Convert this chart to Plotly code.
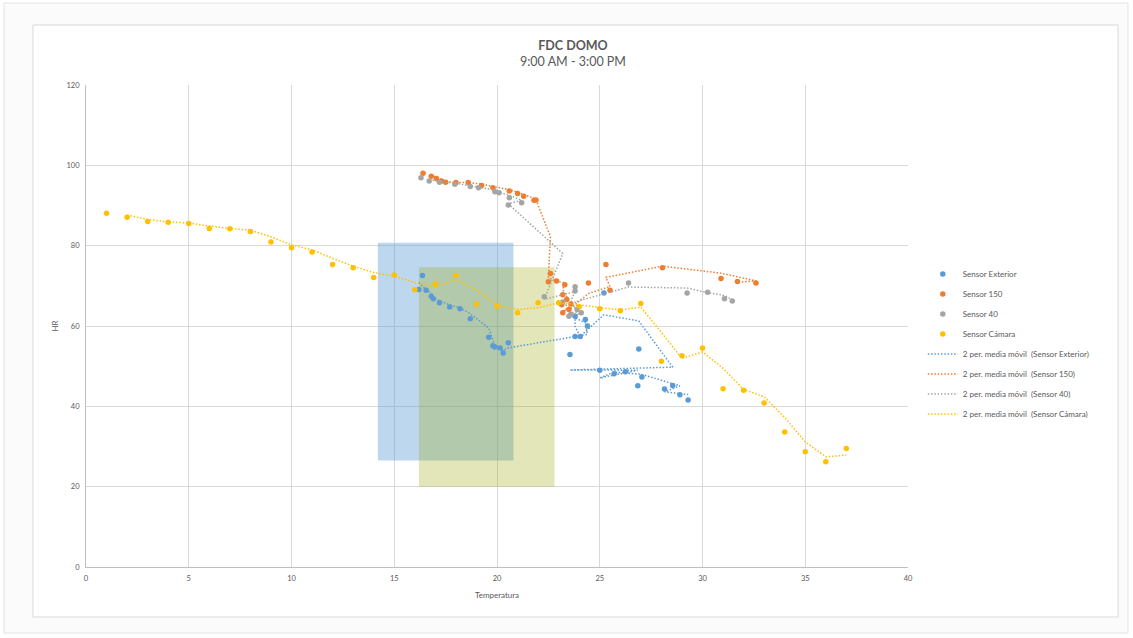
import plotly.graph_objects as go

# --- Sensor readings (temperature °C vs relative humidity %), in time order ---
temp_exterior = [16.37, 16.2, 16.55, 16.8, 16.9, 17.2, 17.7, 18.2, 18.7, 19.6, 19.8, 19.9,
                 20.15, 20.3, 20.55, 24.4, 24.3, 23.8, 23.8, 24.05, 25.2, 26.9, 28.55,
                 23.55, 26.85, 25.0, 25.7, 26.25, 27.05, 28.9, 28.15, 29.3]
hr_exterior = [72.6, 69.1, 68.9, 67.4, 66.8, 65.8, 64.7, 64.3, 61.8, 57.2, 55.1, 54.8,
               54.5, 53.3, 55.8, 60.0, 61.6, 62.4, 57.4, 57.4, 68.2, 54.3, 45.2,
               52.9, 45.1, 49.0, 48.1, 48.6, 47.3, 42.9, 44.3, 41.6]

temp_150 = [16.4, 16.8, 17.05, 17.3, 17.5, 18.0, 18.6, 19.25, 19.8, 20.6, 21.0, 21.3,
            21.8, 21.9, 22.6, 22.5, 22.9, 23.3, 23.2, 23.4, 23.15, 23.5, 23.2, 23.6,
            24.45, 25.5, 25.3, 28.05, 30.9, 32.6, 31.7]
hr_150 = [98.0, 97.3, 96.7, 96.1, 95.8, 95.7, 95.7, 95.0, 94.4, 93.6, 93.0, 92.3,
          91.3, 91.4, 73.1, 71.0, 71.2, 70.3, 67.8, 66.6, 65.3, 64.1, 63.3, 65.5,
          70.7, 68.9, 75.3, 74.5, 71.8, 70.7, 71.1]

temp_40 = [16.3, 16.7, 17.2, 17.95, 18.7, 19.1, 19.9, 20.1, 20.6, 21.2, 20.55, 23.2,
           22.3, 23.8, 23.6, 23.9, 23.5, 24.1, 23.8, 26.4, 29.25, 30.25, 31.07, 31.45]
hr_40 = [96.9, 96.1, 95.8, 95.3, 94.7, 94.4, 93.4, 93.2, 91.9, 90.7, 90.1, 66.0,
         67.3, 69.8, 62.9, 64.1, 62.4, 63.3, 68.7, 70.7, 68.2, 68.4, 66.8, 66.2]

temp_camara = [1, 2, 3, 4, 5, 6, 7, 8, 9, 10, 11, 12, 13, 14, 15, 16, 17, 18, 19,
               20, 21, 22, 23, 24, 25, 26, 27, 28, 29, 30, 31, 32, 33, 34, 35, 36, 37]
hr_camara = [88.1, 87.1, 86.0, 85.8, 85.5, 84.3, 84.2, 83.5, 80.9, 79.5, 78.4, 75.3,
             74.5, 72.1, 72.7, 69.0, 70.5, 72.6, 65.5, 64.9, 63.3, 65.8, 65.8, 64.8,
             64.3, 63.8, 65.6, 51.2, 52.6, 54.5, 44.4, 44.0, 40.8, 33.6, 28.7, 26.2, 29.5]

# Comfort zones: [T min, T max], [HR min, HR max]
zone_blue_t = [14.2, 20.8]
zone_blue_hr = [26.5, 80.7]
zone_yellow_t = [16.2, 22.8]
zone_yellow_hr = [20.0, 74.6]

series = [
    ("Sensor Exterior", temp_exterior, hr_exterior, "#5B9BD5"),
    ("Sensor 150", temp_150, hr_150, "#ED7D31"),
    ("Sensor 40", temp_40, hr_40, "#A5A5A5"),
    ("Sensor Cámara", temp_camara, hr_camara, "#FFC000"),
]


def moving_average(xs, ys, period=2):
    """Excel-style trailing moving average: point i sits at x_i with mean of last `period` y."""
    mx, my = [], []
    for i in range(period - 1, len(ys)):
        mx.append(xs[i])
        my.append(sum(ys[i - period + 1:i + 1]) / period)
    return mx, my


FONT = "Lato, 'Open Sans', sans-serif"
TXT = "#595959"

fig = go.Figure()

for name, xs, ys, color in series:
    fig.add_trace(go.Scatter(
        x=xs, y=ys, mode="markers", name=name, legendgroup=name,
        marker=dict(color=color, size=5.5, line=dict(width=0)),
    ))

for name, xs, ys, color in series:
    mx, my = moving_average(xs, ys)
    label = "2 per. media móvil  (" + name + ")"
    fig.add_trace(go.Scatter(
        x=mx, y=my, mode="lines", name=label, legendgroup=label,
        line=dict(color=color, width=1.5, dash="1.5px,1.8px"),
    ))

# outer page frame and chart frame
fig.add_shape(type="rect", xref="paper", yref="paper",
              x0=(4 - 86) / 822, x1=(1128 - 86) / 822,
              y0=(567 - 633) / 482, y1=(567 - 3) / 482,
              line=dict(color="#E3E3E3", width=1), fillcolor="#FBFBFB", layer="below")
fig.add_shape(type="rect", xref="paper", yref="paper",
              x0=-0.0645, x1=1.2555, y0=-0.1037, y1=1.1245,
              line=dict(color="#D9D9D9", width=1), fillcolor="white", layer="below")

# shaded zones
fig.add_shape(type="rect", xref="x", yref="y",
              x0=zone_blue_t[0], x1=zone_blue_t[1], y0=zone_blue_hr[0], y1=zone_blue_hr[1],
              line=dict(width=0), fillcolor="rgba(91,155,213,0.40)", layer="between")
fig.add_shape(type="rect", xref="x", yref="y",
              x0=zone_yellow_t[0], x1=zone_yellow_t[1], y0=zone_yellow_hr[0], y1=zone_yellow_hr[1],
              line=dict(width=0), fillcolor="rgba(150,165,0,0.28)", layer="between")

fig.add_annotation(xref="paper", yref="paper", x=0.5925, y=(567 - 53) / 482,
                   text="<b>FDC DOMO</b><br>9:00 AM - 3:00 PM", showarrow=False,
                   font=dict(family=FONT, size=12.5, color=TXT), align="center",
                   xanchor="center", yanchor="middle")

fig.update_layout(
    width=1133, height=638,
    margin=dict(l=86, r=225, t=85, b=71),
    paper_bgcolor="white", plot_bgcolor="white",
    font=dict(family=FONT, size=8, color=TXT),
    showlegend=True,
    legend=dict(x=1.018, y=0.638, xanchor="left", yanchor="top",
                font=dict(family=FONT, size=8, color=TXT),
                bgcolor="rgba(0,0,0,0)", itemwidth=30,
                traceorder="grouped", tracegroupgap=1),
)
fig.update_xaxes(range=[0, 40], dtick=5, showgrid=True, gridcolor="#D9D9D9", gridwidth=1,
                 zeroline=False, showline=True, linecolor="#BFBFBF", mirror=False,
                 ticks="", ticklabelstandoff=4, tickfont=dict(size=7.5, color=TXT),
                 title=dict(text="Temperatura", font=dict(size=8, color=TXT), standoff=10))
fig.update_yaxes(range=[0, 120], dtick=20, showgrid=True, gridcolor="#D9D9D9", gridwidth=1,
                 zeroline=False, showline=True, linecolor="#BFBFBF",
                 ticks="", ticklabelstandoff=4, tickfont=dict(size=7.5, color=TXT),
                 title=dict(text="HR", font=dict(size=8, color=TXT), standoff=6))

fig.write_html("out.html")
